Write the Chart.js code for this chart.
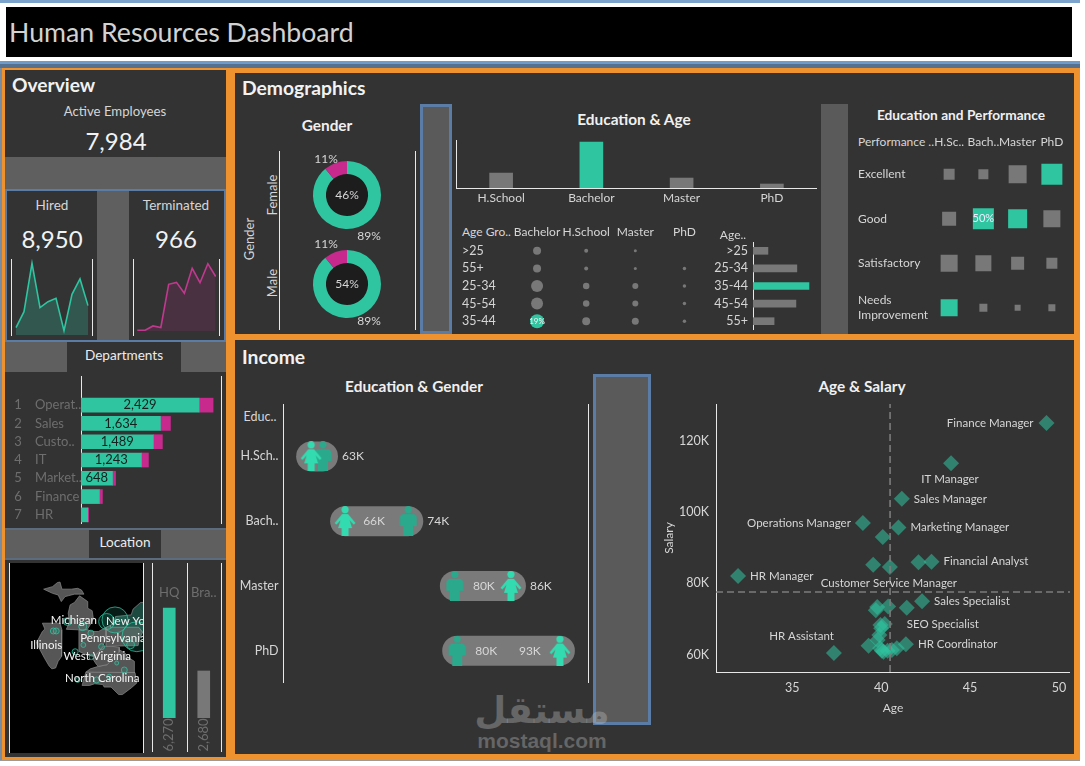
<!DOCTYPE html>
<html>
<head>
<meta charset="utf-8">
<title>Human Resources Dashboard</title>
<script src="https://cdn.jsdelivr.net/npm/chart.js@4"></script>
<style>
  html, body { margin: 0; padding: 0; background: #fff; }
  #page { position: relative; width: 1085px; height: 766px; overflow: hidden; font-family: Lato, sans-serif; }
  #page div, #page canvas { position: absolute; }
  .txt { white-space: nowrap; line-height: 1; }
</style>
</head>
<body>
<div id="page"></div>
<script>
// overview
const hiredPerYear = [199, 633, 1944, 741, 904, 994, 118, 1103, 1519, 796]
const terminatedPerYear = [2, 2, 13, 9, 120, 125, 97, 161, 124, 173, 140]

// departments
const departments = ["Operat..", "Sales", "Custo..", "IT", "Market..", "Finance", "HR"]
const deptActive = [2429, 1634, 1489, 1243, 648, 378, 138]
const deptTerminated = [288, 206, 185, 144, 62, 62, 20]

// location
const locationNames = ["HQ", "Bra.."]
const locationValues = [6270, 2680]
const illinois = [[-91.5,40.2],[-90.6,41.5],[-90.2,41.8],[-90.6,42.5],[-87.8,42.5],[-87.5,41.7],[-87.5,39.4],[-87.6,38.5],[-88.1,37.9],[-88.5,37.1],[-89.1,37],[-89.5,37.3],[-90.2,38.2],[-90.7,38.9],[-91.4,39.9],[-91.5,40.2]]
const michiganLower = [[-86.8,41.76],[-84.8,41.7],[-83.5,41.73],[-83.1,42.2],[-82.5,43],[-82.7,44],[-83.4,44.3],[-83.4,45.1],[-84.7,45.8],[-85.5,45],[-86.2,44.7],[-86.5,43.7],[-86.3,42.6],[-86.8,41.76]]
const michiganUpper = [[-90.4,46.6],[-89,46.9],[-88.2,47.4],[-87.8,47.45],[-87.5,46.6],[-86,46.6],[-85,46.7],[-84.4,46.5],[-84,46],[-84.8,46],[-85.5,46],[-86.5,45.8],[-87,45.7],[-87.6,45.1],[-88.1,45.9],[-89,46.1],[-90.4,46.6]]
const ohio = [[-84.8,41.7],[-83.5,41.73],[-82.7,41.5],[-81.7,41.5],[-80.5,42],[-80.5,40.6],[-81,39.7],[-81.7,39],[-82.5,38.5],[-83.7,38.7],[-84.8,39.1],[-84.8,41.7]]
const pennsylvania = [[-80.5,42],[-79.8,42.25],[-79.8,42],[-75.3,42],[-74.7,41.4],[-75.2,40.6],[-75.4,39.8],[-80.5,39.7],[-80.5,42]]
const newYork = [[-79.8,42.25],[-79,42.7],[-79,43.3],[-76.5,43.5],[-76.2,44.2],[-75,45],[-73.3,45],[-73.3,42.7],[-73.5,41],[-74,40.6],[-74.7,41.4],[-75.3,42],[-79.8,42],[-79.8,42.25]]
const westVirginia = [[-82.6,38.2],[-81.7,39],[-81,39.7],[-80.5,39.7],[-80.5,40.6],[-79.5,39.7],[-78.4,39.6],[-78.4,39],[-79.3,38.4],[-80.3,37.5],[-81.7,37.3],[-82,37.5],[-82.6,38.2]]
const virginia = [[-83.7,36.6],[-75.9,36.55],[-76,37.9],[-77,38.4],[-77.5,38.9],[-78.4,39.3],[-79.3,38.4],[-80.3,37.5],[-81.7,37.3],[-83,37],[-83.7,36.6]]
const northCarolina = [[-84.3,35],[-83.1,35],[-82.3,35.2],[-81,35.1],[-80.8,34.8],[-79.7,34.8],[-78.5,33.9],[-77.9,33.9],[-76.5,34.7],[-75.6,35.3],[-75.9,36.55],[-81.7,36.6],[-83.7,36.6],[-84.3,35]]
const officeLon = [-79.07, -80.4, -75.6, -76.6, -86.6, -84.2, -88.86, -88.4, -82.9, -84.1, -85.4, -81.2, -82.8, -78.8, -77.6, -82, -80, -85]
const officeLat = [42.89, 42.7, 40.87, 39.9, 42.7, 42.08, 41.56, 41.56, 41.3, 39.87, 39.06, 39.67, 38.4, 37.7, 36.86, 35.66, 36.06, 35.66]
const officeStaff = [169, 64, 225, 16, 16, 16, 9, 9, 9, 6, 9, 9, 6, 4, 9, 9, 6, 6]
const stateNames = ["Michigan", "Illinois", "New York", "Pennsylvania", "West Virginia", "North Carolina"]
const stateLabelLon = [-85.6, -90, -80.5, -79.4, -81.9, -81.1]
const stateLabelLat = [42.9, 39.87, 42.76, 40.7, 38.55, 35.8]

// demographics
const genderDonut = [89, 11]
const educationLevels = ["H.School", "Bachelor", "Master", "PhD"]
const educationCounts = [1200, 3700, 800, 320]
const ageRows = [">25", "55+", "25-34", "45-54", "35-44"]
const matrixCols = ["Bachelor", "H.School", "Master", "PhD"]
const matrixBachelor = [64, 64, 144, 144, 196]
const matrixHSchool = [16, 16, 42, 42, 64]
const matrixMaster = [9, 9, 36, 36, 49]
const matrixPhd = [0, 12, 12, 12, 12]
const ageOrder = [">25", "25-34", "35-44", "45-54", "55+"]
const ageCounts = [800, 2350, 3000, 2300, 1130]

const perfRows = ["Excellent", "Good", "Satisfactory", ["Needs", "Improvement"]]
const perfCols = ["H.Sc..", "Bach..", "Master", "PhD"]
const perfExcellent = [121, 100, 324, 441]
const perfGood = [196, 441, 361, 289]
const perfSatisfactory = [289, 256, 169, 121]
const perfNeeds = [289, 64, 36, 49]

// income
const incomeRows = ["H.Sch..", "Bach..", "Master", "PhD"]
const femaleSalary = [61.7, 66, 87, 93.2]
const maleSalary = [63.2, 74, 79.9, 80.2]
const lowLabels = ["", "66K", "80K", "80K"]
const highLabels = ["63K", "74K", "86K", "93K"]

const jobAges = [49.3, 43.93, 41.16, 38.97, 40.97, 40.09, 39.55, 40.49, 42.1, 42.83, 31.95, 42.3, 41.44, 40.39, 39.78, 39.7, 40.2, 39.96, 40, 39.9, 39.8, 41.39, 39.29, 40.88, 39.94, 40.04, 40.13, 40.6, 40.36, 37.34]
const jobSalaries = [125, 113.7, 103.7, 96.9, 95.7, 93, 85.2, 84.6, 85.9, 86.1, 82.1, 75, 73.2, 73.5, 73.4, 72.5, 68.6, 68.3, 67.4, 65.5, 64.1, 62.9, 62.5, 61.8, 61.8, 61.1, 60.8, 61.3, 61.1, 60.5]
const jobNames = ["Finance Manager", "IT Manager", "Sales Manager", "Operations Manager", "Marketing Manager", "", "", "Customer Service Manager", "", "Financial Analyst", "HR Manager", "Sales Specialist", "", "", "", "", "SEO Specialist", "", "", "", "", "HR Coordinator", "", "", "", "", "", "", "", "HR Assistant"]
const avgAge = 40.5
const avgSalary = 77.6

const TEAL = "#2fc5a1"
const PINK = "#c72a8c"
const GRAY = "#787878"
const DARK = "#333333"
const BAND = "#5f5f5f"
const BLUE = "#5a7ca6"
const ORANGE = "#ee9230"
const TEXT = "#d6d6d6"
const FONT = 'Lato, sans-serif'

const page = document.querySelector("#page")

Chart.defaults.font.family = FONT
Chart.defaults.font.size = 12
Chart.defaults.color = TEXT
Chart.defaults.responsive = false
Chart.defaults.animation = false
Chart.defaults.maintainAspectRatio = false
Chart.defaults.layout.autoPadding = false
Chart.defaults.plugins.legend.display = false
Chart.defaults.plugins.tooltip.enabled = false

function box(x, y, w, h, color, border) {
  const d = document.createElement("div")
  d.style.cssText = `left:${x}px;top:${y}px;width:${w}px;height:${h}px;background:${color};box-sizing:border-box;`
  if (border) d.style.border = `3px solid ${border}`
  page.append(d)
}

function rule(x, y, h) { box(x, y, 1, h, "#e8e8e8") }

function txt(s, x, y, o = {}) {
  const d = document.createElement("div")
  d.className = "txt"
  d.textContent = s
  const shift = o.align == "left" ? "0,-50%" : "-50%,-50%"
  d.style.cssText = `left:${x}px;top:${y}px;font-size:${o.size || 12}px;color:${o.color || TEXT};font-weight:${o.bold ? 700 : 400};transform:translate(${shift}) ${o.rotate ? "rotate(-90deg)" : ""};`
  if (o.family) d.style.fontFamily = o.family
  page.append(d)
}

function place(x, y, w, h) {
  const c = document.createElement("canvas")
  c.width = w
  c.height = h
  c.style.cssText = `left:${x}px;top:${y}px;width:${w}px;height:${h}px;`
  page.append(c)
  return c
}

// fixes an axis box so the plot area lands where it should
const fit = (size) => (s) => {
  if (s.isHorizontal()) s.height = size
  else s.width = size
  s.paddingTop = s.paddingBottom = s.paddingLeft = s.paddingRight = 0
}

// draws small texts returned by fn(chart) on top of the marks
function texts(fn) {
  return {
    id: "texts",
    afterDatasetsDraw(chart) {
      const ctx = chart.ctx
      ctx.save()
      fn(chart).forEach((t) => {
        ctx.save()
        ctx.font = `${t.bold ? "700 " : ""}${t.size || 12}px ${FONT}`
        ctx.fillStyle = t.color || TEXT
        ctx.textAlign = t.align || "center"
        ctx.textBaseline = "middle"
        ctx.translate(t.x, t.y)
        if (t.rotate) ctx.rotate(-Math.PI / 2)
        ctx.fillText(t.text, 0, 0)
        ctx.restore()
      })
      ctx.restore()
    },
  }
}

// ---- frames
box(0, 0, 1080, 3, "#7ba3cc")
box(6, 7, 1066, 50, "#000")
box(0, 61, 1080, 3, "#6f9bc8")
box(0, 64, 1080, 4, "#56708f")
box(0, 68, 1080, 692, ORANGE)
box(0, 68, 2, 693, "#7a8ca0")
box(0, 760, 1080, 1, "#9a9a9a")
box(5, 70, 221, 687, DARK)
box(235, 73, 839, 261, DARK)
box(235, 340, 839, 414, DARK)

txt("Human Resources Dashboard", 9, 32, { size: 26.7, align: "left", color: "#d2d2d2" })

// ---- overview
txt("Overview", 12, 85, { size: 19.2, bold: true, align: "left", color: "#f2f2f2" })
txt("Active Employees", 115, 112, { size: 13.2 })
txt("7,984", 116, 141, { size: 24, color: "#f2f2f2" })
box(5, 157, 221, 32, BAND)
box(5, 189, 221, 2, BLUE)
box(5, 191, 2, 149, BLUE)
box(97, 191, 32, 149, BAND)
box(224, 191, 2, 149, BLUE)
box(5, 340, 221, 2, BLUE)
txt("Hired", 52, 206, { size: 13.5 })
txt("8,950", 52, 239, { size: 24, color: "#f2f2f2" })
txt("Terminated", 176, 206, { size: 13.5 })
txt("966", 176, 239, { size: 24, color: "#f2f2f2" })
rule(11, 259, 77); rule(92, 259, 77); rule(133, 259, 77); rule(219, 259, 77)

function spark(canvas, values, max, line, fill, pad) {
  new Chart(canvas, {
    type: "line",
    data: {
      labels: values.map((v, i) => i),
      datasets: [{ data: values, borderColor: line, backgroundColor: fill, borderWidth: 1.6, fill: "origin", pointRadius: 0, tension: 0 }],
    },
    options: {
      layout: { padding: { left: pad, right: pad } },
      scales: { x: { display: false, offset: false }, y: { display: false, min: 0, max } },
    },
  })
}
spark(place(12, 259, 80, 76), hiredPerYear, 2060, TEAL, "rgba(47,197,161,0.25)", 4)
spark(place(134, 259, 85, 72), terminatedPerYear, 185, "#c0398f", "rgba(199,42,140,0.16)", 3.3)

// ---- departments
box(5, 342, 62, 30, BAND)
box(181, 342, 45, 30, BAND)
txt("Departments", 124, 356, { size: 13.6, color: "#ececec" })
rule(81, 376, 148); rule(221, 376, 148)
new Chart(place(5, 376, 216, 148), {
  type: "bar",
  data: {
    labels: departments,
    datasets: [
      { data: deptActive, backgroundColor: TEAL, barThickness: 14 },
      { data: deptTerminated, backgroundColor: PINK, barThickness: 14 },
    ],
  },
  options: {
    indexAxis: "y",
    layout: { padding: { top: 20, left: 30 } },
    scales: {
      x: { display: false, stacked: true, min: 0, max: 2880 },
      y: {
        stacked: true, afterFit: fit(46), border: { display: false },
        grid: { display: false, drawTicks: false },
        ticks: { crossAlign: "far", color: "#6e6e6e", autoSkip: false, font: { size: 13 } },
      },
    },
  },
  plugins: [texts((c) => {
    const out = []
    departments.forEach((d, i) => {
      const y = c.scales.y.getPixelForValue(i)
      out.push({ text: String(i + 1), x: 13, y, color: "#6e6e6e", size: 13 })
      if (i < 5) out.push({ text: deptActive[i].toLocaleString("en-US"), x: c.scales.x.getPixelForValue(deptActive[i] / 2), y, color: "#15211e", size: 13 })
    })
    return out
  })],
})

// ---- location
box(5, 528, 221, 2, "#5d6b7e")
box(5, 530, 84, 28, BAND)
box(161, 530, 65, 28, BAND)
box(5, 558, 221, 2, "#5d6b7e")
txt("Location", 125, 543, { size: 13.6, color: "#ececec" })
box(9, 563, 135, 190, "#000")
rule(9, 563, 190); rule(143, 563, 190); rule(152, 563, 189); rule(187, 563, 189); rule(221, 563, 189)

const stateSet = (points, fill) => ({
  type: "scatter", showLine: true, fill: "shape", data: points.map((p) => ({ x: p[0], y: p[1] })),
  backgroundColor: fill, borderColor: "#8a8a8a", borderWidth: 0.7, pointRadius: 0, tension: 0, order: 2,
})
new Chart(place(10, 563, 133, 190), {
  type: "scatter",
  data: {
    datasets: [
      {
        type: "bubble", order: 1,
        data: officeLon.map((lon, i) => ({ x: lon, y: officeLat[i], r: Math.sqrt(officeStaff[i]) })),
        backgroundColor: "rgba(47,197,161,0.14)", borderColor: "rgba(47,197,161,0.75)", borderWidth: 1,
      },
      stateSet(illinois, "#565656"), stateSet(michiganLower, "#565656"), stateSet(michiganUpper, "#565656"),
      stateSet(ohio, "#565656"), stateSet(pennsylvania, "#565656"), stateSet(westVirginia, "#565656"),
      stateSet(virginia, "#565656"), stateSet(northCarolina, "#565656"), stateSet(newYork, "#1d4a40"),
    ],
  },
  options: {
    scales: {
      x: { display: false, min: -95.74, max: -74.63 },
      y: { display: false, min: 26.86, max: 49.75 },
    },
  },
  plugins: [texts((c) => stateNames.map((n, i) => ({
    text: n, x: c.scales.x.getPixelForValue(stateLabelLon[i]), y: c.scales.y.getPixelForValue(stateLabelLat[i]),
    color: "#f4f4f4", size: 11.5, align: n == "New York" ? "left" : "center",
  })))],
})

new Chart(place(152, 563, 69, 189), {
  type: "bar",
  data: { labels: locationNames, datasets: [{ data: locationValues, backgroundColor: [TEAL, GRAY], barThickness: 12 }] },
  options: {
    layout: { padding: { bottom: 34 } },
    scales: { x: { display: false }, y: { display: false, min: 0, max: 8835 } },
  },
  plugins: [texts((c) => {
    const out = []
    locationNames.forEach((n, i) => {
      const x = c.scales.x.getPixelForValue(i)
      out.push({ text: n, x, y: 30, color: "#6e6e6e", size: 13 })
      out.push({ text: locationValues[i].toLocaleString("en-US"), x, y: 172, color: "#6e6e6e", size: 13, rotate: true })
    })
    return out
  })],
})

// ---- demographics
txt("Demographics", 242, 88, { size: 19.3, bold: true, align: "left", color: "#f2f2f2" })
txt("Gender", 327, 126, { size: 15.4, bold: true, color: "#f0f0f0" })
rule(279, 151, 179); rule(415, 151, 179)
txt("Gender", 249, 239, { size: 13, rotate: true })
txt("Female", 272, 195, { size: 13, rotate: true })
txt("Male", 272, 283, { size: 13, rotate: true })

function donut(cy, share, topDy, botDy) {
  new Chart(place(292, cy - 55, 110, 110), {
    type: "doughnut",
    data: { labels: ["Active", "Terminated"], datasets: [{ data: genderDonut, backgroundColor: [TEAL, PINK], borderWidth: 0 }] },
    options: { cutout: "62%", layout: { padding: 21 } },
    plugins: [{
      id: "hole",
      beforeDatasetsDraw(chart) {
        const arc = chart.getDatasetMeta(0).data[0]
        chart.ctx.fillStyle = "#1d1d1d"
        chart.ctx.beginPath()
        chart.ctx.arc(arc.x, arc.y, arc.innerRadius, 0, Math.PI * 2)
        chart.ctx.fill()
      },
    }, texts((c) => {
      const arc = c.getDatasetMeta(0).data[0]
      return [
        { text: share, x: arc.x, y: arc.y },
        { text: genderDonut[1] + "%", x: arc.x - 21, y: arc.y + topDy },
        { text: genderDonut[0] + "%", x: arc.x + 22, y: arc.y + botDy },
      ]
    })],
  })
}
donut(195, "46%", -36, 41)
donut(284, "54%", -40, 37)

box(420, 104, 32, 230, "#5a5a5a", BLUE)
box(821, 104, 27, 230, "#5a5a5a")

txt("Education & Age", 634, 120, { size: 15.4, bold: true, color: "#f0f0f0" })
rule(456, 140, 49)
new Chart(place(456, 140, 361, 66), {
  type: "bar",
  data: { labels: educationLevels, datasets: [{ data: educationCounts, backgroundColor: [GRAY, TEAL, GRAY, GRAY], barThickness: 23 }] },
  options: {
    scales: {
      x: {
        afterFit: fit(18), border: { color: "#e8e8e8" }, grid: { display: false, drawTicks: false },
        ticks: { padding: 3, autoSkip: false, maxRotation: 0 },
      },
      y: { display: false, min: 0, max: 3860 },
    },
  },
})

txt("Age Gro..", 462, 232, { align: "left" })
const matrixPoints = []
const matrixSeries = [matrixBachelor, matrixHSchool, matrixMaster, matrixPhd]
matrixSeries.forEach((col, c) => col.forEach((v, r) => {
  matrixPoints.push({ x: matrixCols[c], y: ageRows[r], r: Math.sqrt(v) / 2 })
}))
new Chart(place(462, 224, 247, 106), {
  type: "bubble",
  data: {
    datasets: [{
      data: matrixPoints, borderWidth: 0,
      backgroundColor: (ctx) => (ctx.raw && ctx.raw.x == "Bachelor" && ctx.raw.y == "35-44" ? TEAL : GRAY),
    }],
  },
  options: {
    scales: {
      x: {
        type: "category", labels: matrixCols, position: "top", offset: true, afterFit: fit(18),
        border: { display: false }, grid: { display: false, drawTicks: false },
        ticks: { padding: 3, autoSkip: false, maxRotation: 0 },
      },
      y: {
        type: "category", labels: ageRows, offset: true, afterFit: fit(50.5),
        border: { display: false }, grid: { display: false, drawTicks: false },
        ticks: { crossAlign: "far", autoSkip: false, font: { size: 12.5 } },
      },
    },
  },
  plugins: [texts((c) => [{ text: "19%", x: c.scales.x.getPixelForValue(0), y: c.scales.y.getPixelForValue(4), size: 8, color: "#f4f4f4" }])],
})

txt("Age..", 733, 235)
rule(753, 242, 88)
new Chart(place(712, 242, 105, 88), {
  type: "bar",
  data: { labels: ageOrder, datasets: [{ data: ageCounts, backgroundColor: [GRAY, GRAY, TEAL, GRAY, GRAY], barThickness: 7 }] },
  options: {
    indexAxis: "y",
    scales: {
      x: { display: false, min: 0, max: 3430 },
      y: {
        afterFit: fit(41), border: { display: false }, grid: { display: false, drawTicks: false },
        ticks: { padding: 5, autoSkip: false, font: { size: 12.5 } },
      },
    },
  },
})

txt("Education and Performance", 961, 115, { size: 13.7, bold: true, color: "#f0f0f0" })
txt("Performance ..", 858, 142, { align: "left" })
const perfSeries = [perfExcellent, perfGood, perfSatisfactory, perfNeeds]
const perfPoints = []
perfSeries.forEach((row, r) => row.forEach((v, c) => {
  perfPoints.push({ x: perfCols[c], y: r, r: Math.sqrt(v) * Math.SQRT1_2 })
}))
// teal cells as [row, column]
const perfHighlight = [[0, 3], [1, 1], [1, 2], [3, 0]]
new Chart(place(858, 134, 211, 196), {
  type: "bubble",
  data: {
    datasets: [{
      data: perfPoints, borderWidth: 0, pointStyle: "rect",
      backgroundColor: (ctx) => {
        if (!ctx.raw) return GRAY
        const c = perfCols.indexOf(ctx.raw.x)
        return perfHighlight.some((h) => h[0] == ctx.raw.y && h[1] == c) ? TEAL : GRAY
      },
    }],
  },
  options: {
    scales: {
      x: {
        type: "category", labels: perfCols, position: "top", offset: true, afterFit: fit(18),
        border: { display: false }, grid: { display: false, drawTicks: false },
        ticks: { padding: 3, autoSkip: false, maxRotation: 0 },
      },
      y: {
        type: "category", labels: perfRows.map((r, i) => i), offset: true, afterFit: fit(74),
        border: { display: false }, grid: { display: false, drawTicks: false },
        ticks: { crossAlign: "far", autoSkip: false, callback: (v, i) => perfRows[i] },
      },
    },
  },
  plugins: [texts((c) => [{ text: "50%", x: c.scales.x.getPixelForValue(1), y: c.scales.y.getPixelForValue(1), size: 11, color: "#eef" }])],
})

// ---- income
txt("Income", 242, 357, { size: 19.3, bold: true, align: "left", color: "#f2f2f2" })
txt("Education & Gender", 414, 387, { size: 15.4, bold: true, color: "#f0f0f0" })
rule(283, 404, 279); rule(588, 404, 279)
txt("Educ..", 260, 417, { size: 12.5 })
box(593, 374, 58, 351, "#5a5a5a", BLUE)

function person(female, color) {
  const c = document.createElement("canvas")
  c.width = 22
  c.height = 30
  const ctx = c.getContext("2d")
  ctx.fillStyle = color
  ctx.beginPath()
  ctx.arc(11, 3.6, 3.6, 0, Math.PI * 2)
  ctx.fill()
  if (female) {
    ctx.beginPath()
    ctx.moveTo(8, 8); ctx.lineTo(14, 8); ctx.lineTo(21.5, 17); ctx.lineTo(19.5, 18.5)
    ctx.lineTo(15.5, 14); ctx.lineTo(18, 22); ctx.lineTo(14.5, 22); ctx.lineTo(14.5, 30)
    ctx.lineTo(7.5, 30); ctx.lineTo(7.5, 22); ctx.lineTo(4, 22); ctx.lineTo(6.5, 14)
    ctx.lineTo(2.5, 18.5); ctx.lineTo(0.5, 17)
    ctx.closePath()
    ctx.fill()
  } else {
    ctx.beginPath()
    ctx.moveTo(5, 8); ctx.lineTo(17, 8); ctx.lineTo(19.5, 10.5); ctx.lineTo(19.5, 20)
    ctx.lineTo(16, 20); ctx.lineTo(16, 30); ctx.lineTo(6, 30); ctx.lineTo(6, 20)
    ctx.lineTo(2.5, 20); ctx.lineTo(2.5, 10.5)
    ctx.closePath()
    ctx.fill()
  }
  return c
}

new Chart(place(240, 404, 348, 279), {
  type: "scatter",
  data: {
    datasets: [
      {
        data: femaleSalary.map((v, i) => ({ x: v, y: incomeRows[i] })),
        pointStyle: person(true, "#33dcb0"), pointRadius: 15,
      },
      {
        data: maleSalary.map((v, i) => ({ x: v, y: incomeRows[i] })),
        pointStyle: person(false, "#2aa98c"), pointRadius: 15,
      },
    ].concat(incomeRows.map((r, i) => ({
      showLine: true, pointRadius: 0, borderColor: "#7a7a7a", borderWidth: 30, borderCapStyle: "round",
      data: [{ x: femaleSalary[i], y: r }, { x: maleSalary[i], y: r }].sort((a, b) => a.x - b.x),
    }))),
  },
  options: {
    layout: { padding: { top: 20 } },
    scales: {
      x: { display: false, min: 58.2, max: 96.76 },
      y: {
        type: "category", labels: incomeRows, offset: true, afterFit: fit(43.5),
        border: { display: false }, grid: { display: false, drawTicks: false },
        ticks: { padding: 5, autoSkip: false, font: { size: 12.5 } },
      },
    },
  },
  plugins: [texts((c) => {
    const out = []
    incomeRows.forEach((r, i) => {
      const y = c.scales.y.getPixelForValue(i)
      const lowX = c.scales.x.getPixelForValue(Math.min(femaleSalary[i], maleSalary[i]))
      const highX = c.scales.x.getPixelForValue(Math.max(femaleSalary[i], maleSalary[i]))
      if (lowLabels[i]) out.push({ text: lowLabels[i], x: lowX + 29, y })
      // the PhD pill is long enough to hold its high label
      if (highX - lowX > 90) out.push({ text: highLabels[i], x: highX - 30, y })
      else out.push({ text: highLabels[i], x: highX + 19, y, align: "left" })
    })
    return out
  })],
})

txt("Age & Salary", 862, 387, { size: 15.4, bold: true, color: "#f0f0f0" })

// where each job label sits next to its diamond: [dx, dy, align]
const jobLabelPlace = {
  "Finance Manager": [-13, 0, "right"], "IT Manager": [-1, 16, "center"], "Sales Manager": [12, 0, "left"],
  "Operations Manager": [-12, 0, "right"], "Marketing Manager": [12, 0, "left"], "Customer Service Manager": [-1, 16, "center"],
  "Financial Analyst": [12, 0, "left"], "HR Manager": [12, 0, "left"], "Sales Specialist": [12, 0, "left"],
  "SEO Specialist": [22, 0, "left"], "HR Coordinator": [12, 0, "left"], "HR Assistant": [0, -17, "right"],
}
const ageMin = 30.71, ageMax = 50.62, salMin = 55.15, salMax = 130.3
new Chart(place(662, 404, 408, 311), {
  type: "scatter",
  data: {
    datasets: [
      {
        showLine: true, pointRadius: 0, borderColor: "#7c7c7c", borderWidth: 1.6, borderDash: [7, 4],
        data: [{ x: avgAge, y: salMin }, { x: avgAge, y: salMax }],
      },
      {
        showLine: true, pointRadius: 0, borderColor: "#7c7c7c", borderWidth: 1.6, borderDash: [7, 4],
        data: [{ x: ageMin, y: avgSalary }, { x: ageMax, y: avgSalary }],
      },
      {
        data: jobAges.map((a, i) => ({ x: a, y: jobSalaries[i] })),
        pointStyle: "rectRot", pointRadius: 8, borderWidth: 0, backgroundColor: "rgba(47,197,161,0.55)",
      },
    ],
  },
  options: {
    scales: {
      x: {
        min: ageMin, max: ageMax, afterFit: fit(43), border: { color: "#e8e8e8" }, grid: { display: false, drawTicks: false },
        title: { display: true, text: "Age", font: { size: 12 }, padding: { top: 4, bottom: 0 } },
        ticks: { stepSize: 5, includeBounds: false, padding: 8, font: { size: 12.5 } },
      },
      y: {
        min: salMin, max: salMax, afterFit: fit(54), border: { color: "#e8e8e8" }, grid: { display: false, drawTicks: false },
        title: { display: true, text: "Salary", font: { size: 12 }, padding: { top: 0, bottom: 4 } },
        ticks: { stepSize: 20, includeBounds: false, padding: 7, font: { size: 12.5 }, callback: (v) => v + "K" },
      },
    },
  },
  plugins: [texts((c) => {
    const out = []
    jobNames.forEach((n, i) => {
      if (!n) return
      const p = jobLabelPlace[n]
      out.push({ text: n, x: c.scales.x.getPixelForValue(jobAges[i]) + p[0], y: c.scales.y.getPixelForValue(jobSalaries[i]) + p[1], align: p[2], size: 11.5 })
    })
    return out
  })],
})

// watermark
txt("مستقل", 542, 710, { size: 37, bold: true, color: "rgba(200,200,200,0.34)", family: '"DejaVu Sans"' })
txt("mostaql.com", 542, 740, { size: 21, bold: true, color: "rgba(200,200,200,0.34)", family: '"Liberation Sans"' })
</script>
</body>
</html>
